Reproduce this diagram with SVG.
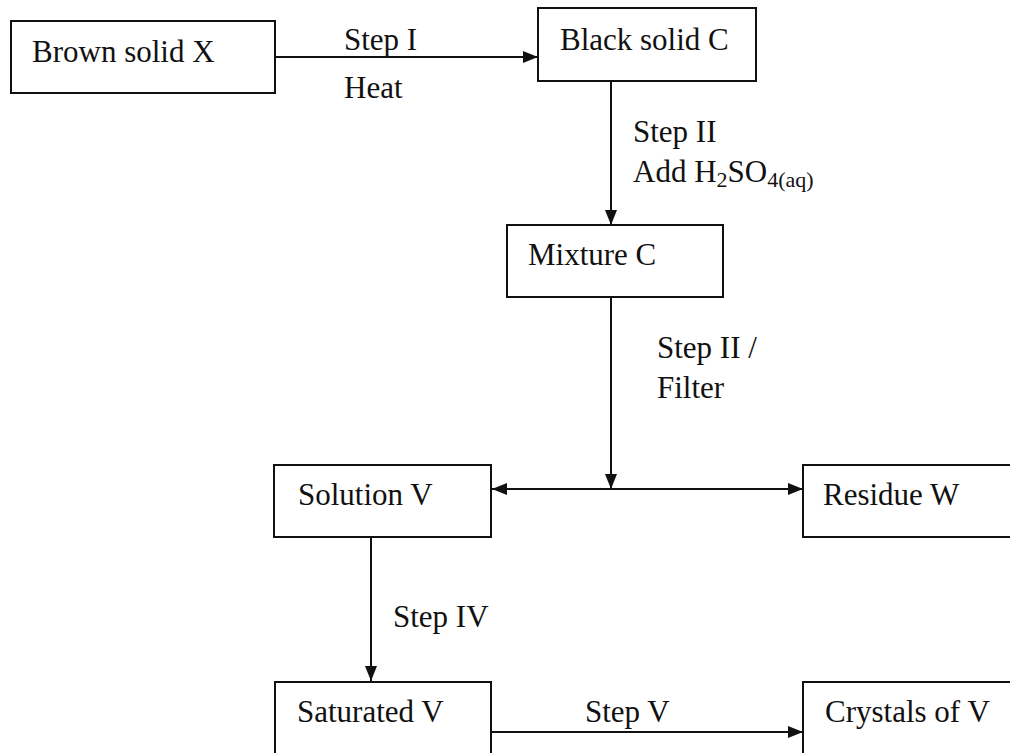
<svg xmlns="http://www.w3.org/2000/svg" width="1010" height="753" viewBox="0 0 1010 753">
<style>
  .box { fill: #fff; stroke: #111; stroke-width: 2; }
  .lbl { font-family: "Liberation Serif", "DejaVu Serif", "Times New Roman", serif; font-size: 31px; fill: #111; }
  .sub { font-size: 22px; }
  .conn { stroke: #111; stroke-width: 2; fill: none; }
</style>
<defs>
  <marker id="arr" markerUnits="userSpaceOnUse" markerWidth="16" markerHeight="12" refX="15" refY="6" orient="auto">
    <path d="M0,0 L15,6 L0,12 Z" fill="#111"/>
  </marker>
</defs>
<rect width="1010" height="753" fill="#fff"/>
<g id="connectors">
  <line class="conn" x1="276" y1="57" x2="538" y2="57" marker-end="url(#arr)"/>
  <line class="conn" x1="611" y1="81" x2="611" y2="225" marker-end="url(#arr)"/>
  <line class="conn" x1="611" y1="297" x2="611" y2="489" marker-end="url(#arr)"/>
  <line class="conn" x1="611" y1="489" x2="492" y2="489" marker-end="url(#arr)"/>
  <line class="conn" x1="611" y1="489" x2="803" y2="489" marker-end="url(#arr)"/>
  <line class="conn" x1="371" y1="537" x2="371" y2="681" marker-end="url(#arr)"/>
  <line class="conn" x1="491" y1="732" x2="803" y2="732" marker-end="url(#arr)"/>
  <text class="lbl" x="344" y="50">Step I</text>
  <text class="lbl" x="344" y="98">Heat</text>
  <text class="lbl" x="633" y="142">Step II</text>
  <text class="lbl" x="633" y="182">Add H<tspan class="sub" dy="5">2</tspan><tspan dy="-5">SO</tspan><tspan class="sub" dy="5">4(aq)</tspan></text>
  <text class="lbl" x="657" y="358">Step II /</text>
  <text class="lbl" x="657" y="398">Filter</text>
  <text class="lbl" x="393" y="627">Step IV</text>
  <text class="lbl" x="585" y="722">Step V</text>
</g>
<g id="brown-solid-x">
  <rect class="box" x="11" y="21" width="264" height="72"/>
  <text class="lbl" x="32" y="62">Brown solid X</text>
</g>
<g id="black-solid-c">
  <rect class="box" x="538" y="8" width="218" height="73"/>
  <text class="lbl" x="560" y="50">Black solid C</text>
</g>
<g id="mixture-c">
  <rect class="box" x="507" y="225" width="216" height="72"/>
  <text class="lbl" x="528" y="265">Mixture C</text>
</g>
<g id="solution-v">
  <rect class="box" x="274" y="465" width="217" height="72"/>
  <text class="lbl" x="298" y="505">Solution V</text>
</g>
<g id="residue-w">
  <rect class="box" x="803" y="465" width="220" height="72"/>
  <text class="lbl" x="823" y="505">Residue W</text>
</g>
<g id="saturated-v">
  <rect class="box" x="275" y="682" width="216" height="80"/>
  <text class="lbl" x="297" y="722">Saturated V</text>
</g>
<g id="crystals-of-v">
  <rect class="box" x="803" y="682" width="220" height="80"/>
  <text class="lbl" x="825" y="722">Crystals of V</text>
</g>
</svg>
